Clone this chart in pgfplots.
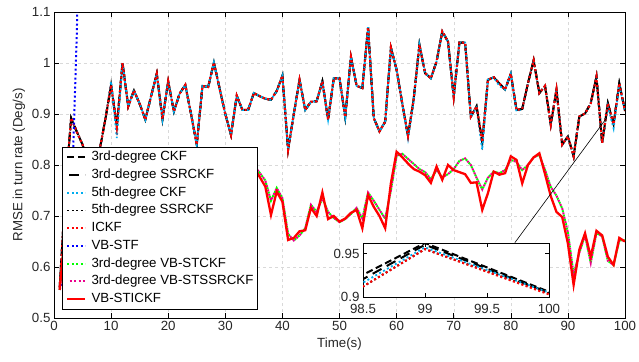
\documentclass[border=0pt]{standalone}
\usepackage{fontspec}
\setmainfont{Liberation Sans}
\usepackage{pgfplots}
\usepackage{pgfplotstable}
\pgfplotsset{compat=1.18}

% Upper group: CKF-type filters (base) and 5th-degree CKF (cy)
\pgfplotstableread{
t up cy
1 0.560 0.560
2 0.750 0.750
3 0.892 0.892
4 0.865 0.865
5 0.840 0.840
6 0.800 0.800
7 0.780 0.780
8 0.830 0.830
9 0.890 0.890
10 0.957 0.964
11 0.875 0.853
12 1.000 1.000
13 0.915 0.915
14 0.946 0.946
15 0.920 0.920
16 0.889 0.889
17 0.935 0.935
18 0.979 0.979
19 0.890 0.890
20 0.964 0.964
21 0.905 0.905
22 0.940 0.940
23 0.957 0.957
24 0.900 0.900
25 0.840 0.840
26 0.955 0.955
27 0.953 0.953
28 1.001 1.001
29 0.950 0.950
30 0.900 0.900
31 0.859 0.859
32 0.936 0.936
33 0.908 0.908
34 0.908 0.908
35 0.941 0.941
36 0.935 0.935
37 0.930 0.930
38 0.928 0.928
39 0.945 0.945
40 0.975 0.975
41 0.830 0.830
42 0.900 0.900
43 0.967 0.967
44 0.908 0.908
45 0.924 0.924
46 0.925 0.925
47 0.964 0.964
48 0.889 0.889
49 0.970 0.970
50 0.970 0.970
51 0.894 0.894
52 1.012 1.012
53 0.955 0.955
54 0.951 0.951
55 1.070 1.070
56 0.892 0.892
57 0.866 0.866
58 0.885 0.885
59 1.030 1.030
60 0.987 0.987
61 0.920 0.920
62 0.857 0.852
63 0.930 0.925
64 1.036 1.036
65 0.980 0.980
66 0.970 0.970
67 1.003 1.003
68 1.062 1.062
69 1.042 1.042
70 0.934 0.934
71 1.040 1.040
72 1.040 1.040
73 0.895 0.895
74 0.915 0.912
75 0.845 0.830
76 0.967 0.967
77 0.972 0.972
78 0.960 0.955
79 0.948 0.948
80 0.979 0.979
81 0.908 0.905
82 0.910 0.910
83 0.960 0.960
84 1.005 1.005
85 0.941 0.941
86 0.955 0.955
87 0.879 0.879
88 0.948 0.948
89 0.840 0.840
90 0.856 0.856
91 0.817 0.817
92 0.895 0.895
93 0.901 0.901
94 0.921 0.921
95 0.973 0.973
96 0.843 0.843
97 0.921 0.915
98 0.880 0.872
99 0.960 0.957
100 0.906 0.905
}\uppertab

% Lower group: VB-STICKF (st) and 3rd-degree VB-STCKF / VB-STSSRCKF (gr)
\pgfplotstableread{
t st gr
1 0.555 0.555
2 0.680 0.680
3 0.740 0.740
4 0.760 0.760
5 0.750 0.750
6 0.720 0.720
7 0.740 0.740
8 0.770 0.770
9 0.760 0.760
10 0.730 0.730
11 0.750 0.750
12 0.780 0.780
13 0.760 0.760
14 0.740 0.740
15 0.750 0.750
16 0.770 0.770
17 0.790 0.790
18 0.760 0.760
19 0.740 0.740
20 0.760 0.760
21 0.780 0.780
22 0.770 0.770
23 0.750 0.750
24 0.730 0.730
25 0.750 0.750
26 0.770 0.770
27 0.790 0.790
28 0.780 0.780
29 0.760 0.760
30 0.740 0.740
31 0.760 0.760
32 0.780 0.780
33 0.800 0.800
34 0.790 0.790
35 0.795 0.800
36 0.777 0.785
37 0.758 0.770
38 0.702 0.730
39 0.748 0.755
40 0.728 0.735
41 0.653 0.665
42 0.657 0.652
43 0.670 0.662
44 0.672 0.676
45 0.716 0.722
46 0.700 0.708
47 0.746 0.735
48 0.694 0.708
49 0.700 0.696
50 0.689 0.688
51 0.695 0.694
52 0.706 0.704
53 0.712 0.716
54 0.676 0.695
55 0.741 0.746
56 0.718 0.730
57 0.700 0.712
58 0.676 0.695
59 0.764 0.750
60 0.826 0.818
61 0.815 0.822
62 0.803 0.812
63 0.792 0.802
64 0.787 0.792
65 0.780 0.786
66 0.765 0.772
67 0.797 0.790
68 0.771 0.776
69 0.800 0.782
70 0.790 0.792
71 0.786 0.808
72 0.782 0.813
73 0.765 0.800
74 0.766 0.775
75 0.712 0.752
76 0.745 0.775
77 0.787 0.787
78 0.781 0.784
79 0.784 0.790
80 0.817 0.810
81 0.810 0.806
82 0.764 0.790
83 0.800 0.800
84 0.815 0.815
85 0.823 0.820
86 0.782 0.790
87 0.739 0.757
88 0.708 0.740
89 0.698 0.715
90 0.646 0.668
91 0.565 0.585
92 0.634 0.628
93 0.666 0.662
94 0.620 0.608
95 0.671 0.667
96 0.662 0.660
97 0.620 0.612
98 0.604 0.604
99 0.657 0.652
100 0.650 0.652
}\lowertab

\pgfplotstableread{
t v
1 0.555
2 0.600
3 0.700
4 1.060
5 1.600
6 2.200
}\vbstftab

\pgfplotsset{
  ckfA/.style={black, line width=2bp, dash pattern=on 7bp off 3.5bp},
  ckfB/.style={black, line width=2bp, dash pattern=on 10bp off 6bp, dash phase=-2bp},
  ckfC/.style={cyan, line width=1.8bp, dash pattern=on 2bp off 2.5bp},
  ckfD/.style={black, line width=1.8bp, dash pattern=on 2bp off 2.5bp},
  ickf/.style={red, line width=2.1bp, dash pattern=on 2bp off 2.5bp},
  vbstfs/.style={blue, line width=2bp, dash pattern=on 2bp off 2.5bp},
  vbg/.style={green, line width=2bp, dash pattern=on 2bp off 2.5bp},
  vbm/.style={magenta, line width=2bp, dash pattern=on 2bp off 2.5bp, dash phase=2.2bp},
  vbi/.style={red, line width=2.3bp, solid},
}

\newcommand{\fs}{\fontsize{13.3bp}{16bp}\selectfont}

\begin{document}
\begin{tikzpicture}
\useasboundingbox (-54bp,-44bp) rectangle (585bp,318bp);
\begin{axis}[
  at={(0,0)}, anchor=south west,
  scale only axis, width=571bp, height=306bp,
  xmin=0, xmax=100, ymin=0.5, ymax=1.1,
  xtick={0,10,20,30,40,50,60,70,80,90,100},
  ytick={0.5,0.6,0.7,0.8,0.9,1,1.1},
  grid=major, grid style={dashed, black!15, line width=0.4bp},
  tick align=inside, major tick length=5bp,
  axis line style={line width=0.6bp},
  tick style={black, line width=0.6bp},
  tick label style={font=\fs, text=black!85},
  /pgf/number format/assume math mode=true,
  xlabel={Time(s)}, ylabel={RMSE in turn rate (Deg/s)},
  label style={font=\fs, text=black!85},
  legend cell align=left,
  legend image code/.code={\draw[#1] (0bp,0bp) -- (18bp,0bp);},
  legend style={at={(axis description cs:0.0145,0.028)}, anchor=south west,
    draw=black, fill=white, line width=0.6bp, inner sep=3.7bp, row sep=4.7bp,
    nodes={inner sep=0pt, text height=10bp, text depth=3bp, font=\fs},
    /tikz/every odd column/.append style={column sep=5bp}},
]
\addplot[ckfA] table[x=t,y=up]{\uppertab}; \addlegendentry{3rd-degree CKF}
\addplot[ckfB] table[x=t,y=up]{\uppertab}; \addlegendentry{3rd-degree SSRCKF}
\addplot[ckfC] table[x=t,y=cy]{\uppertab}; \addlegendentry{5th-degree CKF}
\addplot[ckfD] table[x=t,y=up]{\uppertab}; \addlegendentry{5th-degree SSRCKF}
\addplot[ickf] table[x=t,y=up]{\uppertab}; \addlegendentry{ICKF}
\addplot[vbstfs] table[x=t,y=v]{\vbstftab}; \addlegendentry{VB-STF}
\addplot[vbg] table[x=t,y=gr]{\lowertab}; \addlegendentry{3rd-degree VB-STCKF}
\addplot[vbm] table[x=t,y=gr]{\lowertab}; \addlegendentry{3rd-degree VB-STSSRCKF}
\addplot[vbi] table[x=t,y=st]{\lowertab}; \addlegendentry{VB-STICKF}
\draw[black, line width=0.6bp] (axis cs:80.7,0.6475) -- (axis cs:96.8,0.8925);
\end{axis}
\begin{axis}[
  at={(309bp,21bp)}, anchor=south west,
  scale only axis, width=186bp, height=54bp,
  xmin=98.5, xmax=100, ymin=0.9, ymax=0.962,
  xtick={98.5,99,99.5,100}, ytick={0.9,0.95},
  axis background/.style={fill=white},
  tick align=inside, major tick length=4bp,
  axis line style={line width=0.6bp},
  tick style={black, line width=0.6bp},
  tick label style={font=\fs, text=black!85},
  xticklabel style={yshift=-4bp},
  /pgf/number format/assume math mode=true,
]
\addplot[ckfA] coordinates {(98,0.889) (99,0.962) (100,0.906)};
\addplot[ckfB] coordinates {(98,0.881) (99,0.960) (100,0.905)};
\addplot[ckfC] coordinates {(98,0.876) (99,0.957) (100,0.905)};
\addplot[ckfD] coordinates {(98,0.869) (99,0.955) (100,0.904)};
\addplot[ickf] coordinates {(98,0.869) (99,0.955) (100,0.903)};
\end{axis}
\end{tikzpicture}
\end{document}
